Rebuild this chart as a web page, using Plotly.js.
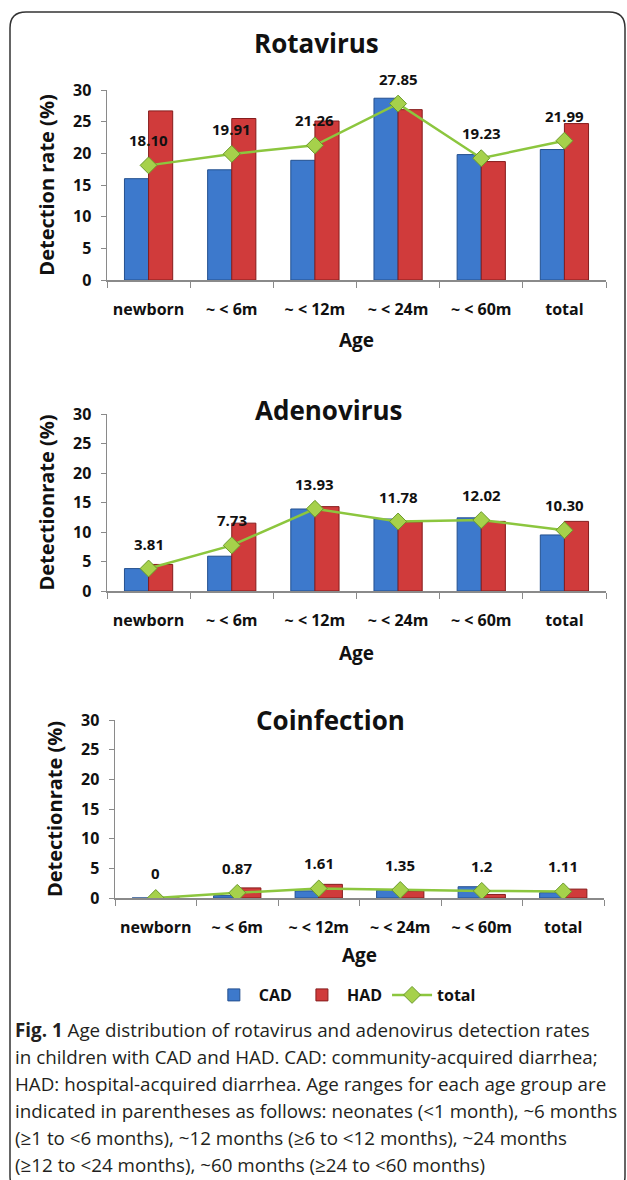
<!DOCTYPE html>
<html><head><meta charset="utf-8">
<script src="https://cdn.plot.ly/plotly-3.0.1.min.js"></script>
<style>html,body{margin:0;padding:0;background:#fff;}#chart{width:627px;height:1180px;}</style>
</head><body><div id="chart"></div>
<script>
// ---- data ----
const categories = ['newborn', '~ < 6m', '~ < 12m', '~ < 24m', '~ < 60m', 'total'];
const panelTitles = ['Rotavirus', 'Adenovirus', 'Coinfection'];
const yTitles = ['Detection rate (%)', 'Detectionrate (%)', 'Detectionrate (%)'];
const xTitle = 'Age';
const legendNames = ['CAD', 'HAD', 'total'];
const yTickVals = [0, 5, 10, 15, 20, 25, 30];

const rotaCAD = [16.0, 17.4, 18.9, 28.7, 19.8, 20.6];
const rotaHAD = [26.7, 25.5, 25.1, 26.9, 18.7, 24.7];
const rotaTotal = [18.10, 19.91, 21.26, 27.85, 19.23, 21.99];
const rotaLabels = ['18.10', '19.91', '21.26', '27.85', '19.23', '21.99'];

const adenoCAD = [3.8, 5.9, 13.9, 12.2, 12.4, 9.5];
const adenoHAD = [4.5, 11.5, 14.3, 11.7, 11.8, 11.8];
const adenoTotal = [3.81, 7.73, 13.93, 11.78, 12.02, 10.30];
const adenoLabels = ['3.81', '7.73', '13.93', '11.78', '12.02', '10.30'];

const coCAD = [0, 0.4, 1.2, 1.3, 1.9, 0.9];
const coHAD = [0, 1.7, 2.3, 1.2, 0.6, 1.5];
const coTotal = [0, 0.87, 1.61, 1.35, 1.2, 1.11];
const coLabels = ['0', '0.87', '1.61', '1.35', '1.2', '1.11'];

const captionLines = [
  '<b>Fig. 1</b> Age distribution of rotavirus and adenovirus detection rates',
  'in children with CAD and HAD. CAD: community-acquired diarrhea;',
  'HAD: hospital-acquired diarrhea. Age ranges for each age group are',
  'indicated in parentheses as follows: neonates (<1 month), ~6 months',
  '(≥1 to <6 months), ~12 months (≥6 to <12 months), ~24 months',
  '(≥12 to <24 months), ~60 months (≥24 to <60 months)'
];

// ---- styling / layout ----
const W = 627, H = 1180;
const FONT = 'Open Sans, Liberation Sans, sans-serif';
const panels = [
  {cad: rotaCAD, had: rotaHAD, tot: rotaTotal, lab: rotaLabels, top: 90, bottom: 280, left: 107, right: 606, titleY: 43, titleX: 316, standoff: 15},
  {cad: adenoCAD, had: adenoHAD, tot: adenoTotal, lab: adenoLabels, top: 414, bottom: 591, left: 107, right: 606, titleY: 410, titleX: 328, standoff: 17},
  {cad: coCAD, had: coHAD, tot: coTotal, lab: coLabels, top: 720, bottom: 898, left: 115, right: 604, titleY: 720, titleX: 330, standoff: 12}
];

const data = [];
const layout = {
  width: W, height: H,
  margin: {l: 0, r: 0, t: 0, b: 0},
  paper_bgcolor: '#fff', plot_bgcolor: 'rgba(0,0,0,0)',
  barmode: 'group', bargap: 0.42, bargroupgap: 0,
  showlegend: true,
  legend: {orientation: 'h', x: 0.55, xanchor: 'center', y: 1 - 995 / H, yanchor: 'middle',
           font: {family: FONT, size: 16, weight: 'bold', color: '#111'}, traceorder: 'normal',
           itemwidth: 40},
  annotations: [],
  shapes: []
};

panels.forEach((p, i) => {
  const sfx = i === 0 ? '' : String(i + 1);
  const xa = 'x' + sfx, ya = 'y' + sfx;
  data.push({type: 'bar', name: legendNames[0], x: categories, y: p.cad, xaxis: xa, yaxis: ya,
    marker: {color: '#3D79CC', line: {color: '#24508F', width: 1}}, showlegend: i === 0, legendgroup: 'cad', hoverinfo: 'y'});
  data.push({type: 'bar', name: legendNames[1], x: categories, y: p.had, xaxis: xa, yaxis: ya,
    marker: {color: '#D03B3B', line: {color: '#861C1C', width: 1}}, showlegend: i === 0, legendgroup: 'had', hoverinfo: 'y'});
  data.push({type: 'scatter', mode: 'lines+markers', name: legendNames[2], x: categories, y: p.tot, xaxis: xa, yaxis: ya,
    line: {color: '#8CC63E', width: 2.5},
    marker: {symbol: 'diamond', size: 13, color: '#A6D14B', line: {color: '#6A9A2A', width: 1}},
    showlegend: i === 0, legendgroup: 'tot', hoverinfo: 'y'});

  const axX = {
    domain: [p.left / W, p.right / W], anchor: ya, type: 'category',
    showline: true, linecolor: '#8a8a8a', linewidth: 1.5, mirror: false,
    ticks: 'outside', tickson: 'boundaries', ticklen: 6, tickcolor: '#8a8a8a',
    ticklabelstandoff: 14,
    tickfont: {family: FONT, size: 16, weight: 'bold', color: '#111'},
    showgrid: false, zeroline: false, fixedrange: true,
    title: {text: xTitle, font: {family: FONT, size: 19, weight: 'bold', color: '#111'}, standoff: p.standoff}
  };
  const axY = {
    domain: [1 - p.bottom / H, 1 - p.top / H], anchor: xa, range: [0, 30],
    tickvals: yTickVals, showline: true, linecolor: '#8a8a8a', linewidth: 1.5,
    ticks: 'outside', ticklen: 5, tickcolor: '#8a8a8a', ticklabelstandoff: 6,
    tickfont: {family: FONT, size: 16, weight: 'bold', color: '#111'},
    showgrid: false, zeroline: false, fixedrange: true,
    title: {text: yTitles[i], font: {family: FONT, size: 20, weight: 'bold', color: '#111'}, standoff: 13}
  };
  layout['xaxis' + sfx] = axX;
  layout['yaxis' + sfx] = axY;

  layout.annotations.push({text: '<b>' + panelTitles[i] + '</b>', xref: 'paper', yref: 'paper',
    x: p.titleX / W, y: 1 - p.titleY / H, xanchor: 'center', yanchor: 'middle', showarrow: false,
    font: {family: FONT, size: 26, color: '#111'}});

  p.lab.forEach((t, j) => {
    layout.annotations.push({text: '<b>' + t + '</b>', xref: xa, yref: ya, x: categories[j], y: p.tot[j],
      yshift: 25, showarrow: false, font: {family: FONT, size: 15, color: '#111'}});
  });
});

captionLines.forEach((t, k) => {
  layout.annotations.push({text: t, xref: 'paper', yref: 'paper', x: 13 / W, y: 1 - (1030 + 27 * k) / H,
    xanchor: 'left', yanchor: 'middle', align: 'left', showarrow: false,
    font: {family: FONT, size: 18.8, color: '#231f20'}});
});

// rounded frame around figure
const fx0 = 10 / W, fx1 = 625 / W, fy0 = 1 - 1192 / H, fy1 = 1 - 12 / H, rx = 16 / W, ry = 16 / H;
layout.shapes.push({type: 'path', xref: 'paper', yref: 'paper', layer: 'below',
  path: `M ${fx0 + rx} ${fy1} L ${fx1 - rx} ${fy1} Q ${fx1} ${fy1} ${fx1} ${fy1 - ry} L ${fx1} ${fy0 + ry} Q ${fx1} ${fy0} ${fx1 - rx} ${fy0} L ${fx0 + rx} ${fy0} Q ${fx0} ${fy0} ${fx0} ${fy0 + ry} L ${fx0} ${fy1 - ry} Q ${fx0} ${fy1} ${fx0 + rx} ${fy1} Z`,
  line: {color: '#333', width: 1.5}});

Plotly.newPlot('chart', data, layout, {displayModeBar: false, staticPlot: true});
</script>
</body></html>
